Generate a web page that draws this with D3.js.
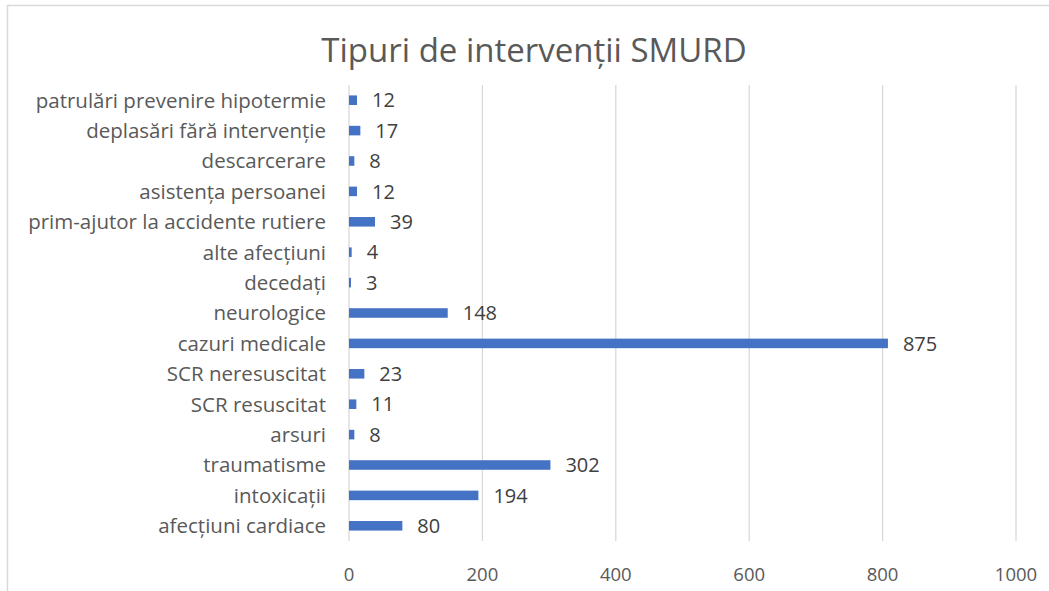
<!DOCTYPE html>
<html>
<head>
<meta charset="utf-8">
<script src="https://cdn.jsdelivr.net/npm/d3@7"></script>
<style>
	body { margin: 0; background: #fff; }
	svg { display: block; font-family: 'Open Sans', sans-serif; }
</style>
</head>
<body>
<svg id="chart" width="1049" height="591"></svg>
<script>
// categories in sheet order (bottom of the chart first)
const categories = [
	'afecțiuni cardiace',
	'intoxicații',
	'traumatisme',
	'arsuri',
	'SCR resuscitat',
	'SCR neresuscitat',
	'cazuri medicale',
	'neurologice',
	'decedați',
	'alte afecțiuni',
	'prim-ajutor la accidente rutiere',
	'asistența persoanei',
	'descarcerare',
	'deplasări fără intervenție',
	'patrulări prevenire hipotermie'
];
// bar lengths as drawn in the picture
const values = [80, 194, 302, 8, 11, 23, 808, 148, 3, 4, 39, 12, 8, 17, 12];
// data labels as printed next to the bars
const dataLabels = ['80', '194', '302', '8', '11', '23', '875', '148', '3', '4', '39', '12', '8', '17', '12'];
const xTicks = [0, 200, 400, 600, 800, 1000];

const title = 'Tipuri de intervenții SMURD';

const textColor = '#595959';
const gridColor = '#d9d9d9';
const barColor = '#4472c4';

const svg = d3.select('#chart');
const margin = { top: 85, right: 33, bottom: 50, left: 349 };
const width = 1049;
const height = 591;

// outer chart frame (clipped by the picture on right and bottom)
svg.append('rect')
	.attr('x', 7.5)
	.attr('y', 5.5)
	.attr('width', 1100)
	.attr('height', 700)
	.attr('fill', 'none')
	.attr('stroke', gridColor)
	.attr('stroke-width', 1.5);

const x = d3.scaleLinear()
	.domain([0, 1000])
	.range([margin.left, width - margin.right]);

const y = d3.scaleBand()
	.domain(categories.slice().reverse())
	.range([margin.top, height - margin.bottom])
	.paddingInner(0.686)
	.paddingOuter(0.343);

// gridlines
svg.append('g')
	.selectAll('line')
	.data(xTicks)
	.join('line')
	.attr('x1', d => x(d))
	.attr('x2', d => x(d))
	.attr('y1', margin.top)
	.attr('y2', height - margin.bottom)
	.attr('stroke', gridColor)
	.attr('stroke-width', 1.3);

// x tick labels
svg.append('g')
	.selectAll('text')
	.data(xTicks)
	.join('text')
	.attr('x', d => x(d))
	.attr('y', 581)
	.attr('text-anchor', 'middle')
	.attr('fill', textColor)
	.style('font-size', '18.5px')
	.text(d => d);

// bars
svg.append('g')
	.selectAll('rect')
	.data(categories)
	.join('rect')
	.attr('x', x(0))
	.attr('y', d => y(d))
	.attr('width', (d, i) => x(values[i]) - x(0))
	.attr('height', y.bandwidth())
	.attr('fill', barColor);

// data labels
svg.append('g')
	.selectAll('text')
	.data(categories)
	.join('text')
	.attr('x', (d, i) => x(values[i]) + 15)
	.attr('y', d => y(d) + y.bandwidth() / 2)
	.attr('dy', '0.36em')
	.attr('fill', '#404040')
	.style('font-size', '20px')
	.text((d, i) => dataLabels[i]);

// category labels
svg.append('g')
	.selectAll('text')
	.data(categories)
	.join('text')
	.attr('x', 326)
	.attr('y', d => y(d) + y.bandwidth() / 2)
	.attr('dy', '0.36em')
	.attr('text-anchor', 'end')
	.attr('fill', textColor)
	.style('font-size', '20.5px')
	.text(d => d);

// title
svg.append('text')
	.attr('x', 534)
	.attr('y', 62)
	.attr('text-anchor', 'middle')
	.attr('fill', textColor)
	.style('font-size', '33px')
	.text(title);
</script>
</body>
</html>
